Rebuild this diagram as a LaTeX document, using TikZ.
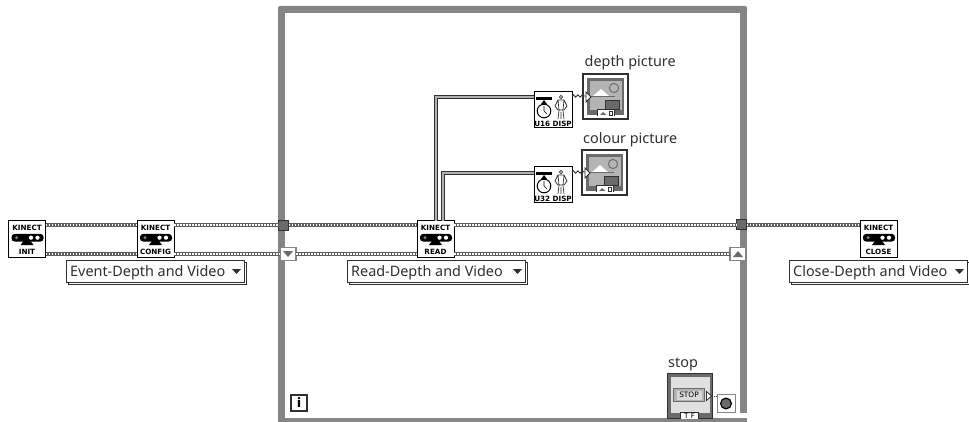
\documentclass[tikz,border=0pt]{standalone}
\usepackage{fontspec}
\setmainfont{Noto Sans}
\newfontfamily\iconfont{DejaVu Sans}
\usetikzlibrary{calc,decorations.pathmorphing}
\definecolor{framegray}{HTML}{858585}
\definecolor{wiregray}{HTML}{5E5E5E}
\definecolor{darkline}{HTML}{303030}
\definecolor{bevel}{HTML}{6A6A6A}
\definecolor{panel}{HTML}{B4B4B4}
\tikzset{
  x=1pt,y=-1pt,
  loopbar/.style={fill=framegray,draw=none},
  wire/.style={draw=wiregray,line width=3.4,postaction={draw=white,line width=1.1,dash pattern=on 1.6 off 1.4}},
  arraywire/.style={draw=darkline,line width=4.6,line join=miter,postaction={draw=white!70!black,line width=1.5}},
  thinwire/.style={draw=darkline,line width=.9,decorate,decoration={snake,amplitude=1.2,segment length=4.5}},
  iconbox/.style={draw=black,line width=1,fill=white,minimum width=37,minimum height=36,inner sep=0,outer sep=0},
  termbox/.style={draw=darkline,line width=1.1,fill=white,minimum width=45,minimum height=45,inner sep=0,outer sep=0},
  combo/.style={draw=darkline,line width=.8,fill=white,minimum width=178,minimum height=22,inner sep=0,outer sep=0},
  tinytext/.style={font=\iconfont\bfseries\fontsize{7.2}{8}\selectfont,inner sep=0,text=black},
  labeltext/.style={font=\fontsize{14.4}{16}\selectfont,inner sep=0,text=darkline,anchor=base west},
  tunnel/.style={draw=darkline,line width=1,fill=bevel,minimum width=10,minimum height=10,inner sep=0,outer sep=0},
  shiftreg/.style={draw=framegray,line width=1.5,fill=white,minimum width=16,minimum height=13,inner sep=0,outer sep=0},
}
% name, left x, top y, caption
\newcommand{\kinecticon}[4]{%
  \node[iconbox,anchor=north west] (#1) at (#2,#3) {};
  \begin{scope}[shift={(#2,#3)}]
    \node[tinytext] (#1-top) at (18.5,6.5) {KINECT};
    \fill[black,rounded corners=3] (3,13) rectangle (35,20.5);
    \fill[black] (15,20) -- (22,20) -- (25,24) -- (12,24) -- cycle;
    \fill[gray] (8,16.7) circle (1.7);
    \fill[white] (22.5,16.7) circle (2.1);
    \fill[white] (29,16.7) circle (2.1);
    \node[tinytext] (#1-cap) at (18.5,31) {#4};
  \end{scope}
}
% name, left x, top y, caption
\newcommand{\dispicon}[4]{%
  \node[iconbox,minimum width=38,anchor=north west] (#1) at (#2,#3) {};
  \begin{scope}[shift={(#2,#3)}]
    \fill[black] (2,5) rectangle (18,8);
    \fill[black] (7,12) -- (13,12) -- (10,8) -- cycle;
    \draw[black,line width=1] (10,19) circle (6.8);
    \draw[black,line width=.6] (10,19) -- (10,14) (10,19) -- (13,22);
    \draw[darkline,line width=.7] (27,5) circle (1.7) (24,8) -- (30,8) -- (33,14) -- (30,18) (24,8) -- (21,14) -- (24,18)
      (24,8) -- (25,18) -- (24,27) (30,8) -- (29,18) -- (30,27) (25,18) -- (29,18) (27,20) -- (27,27);
    \node[tinytext,font=\iconfont\bfseries\fontsize{7.2}{8}\selectfont] (#1-cap) at (19,31.5) {#4};
  \end{scope}
}
% name, left x, top y
\newcommand{\picterm}[3]{%
  \node[termbox,anchor=north west] (#1) at (#2,#3) {};
  \begin{scope}[shift={(#2,#3)}]
    \fill[bevel] (4,4) rectangle (40.5,41);
    \fill[panel] (7,7) rectangle (39,36);
    \fill[white] (18,15) -- (26,22) -- (10,22) -- cycle;
    \draw[bevel,line width=.8] (8,22.5) -- (32,22.5);
    \draw[bevel,line width=.9] (31,14) circle (4.6);
    \fill[bevel] (22,26) rectangle (36,35);
    \draw[darkline,line width=.6] (22,26) rectangle (36,35);
    \draw[darkline,line width=.7,fill=white] (14,42) -- (14,35) -- (31,35) -- (31,42);
    \fill[bevel] (20,38) -- (23.5,41) -- (17,41) -- cycle;
    \draw[darkline,line width=.7] (26,37.5) rectangle (29.5,41);
    \draw[darkline,line width=.8,fill=white] (3,18) -- (8,23) -- (3,28) -- cycle;
  \end{scope}
}
% name, left x, top y, text
\newcommand{\ringcombo}[4]{%
  \draw[darkline,line width=.8,fill=white] (#2+2,#3+2) rectangle (#2+180,#3+24);
  \node[combo,anchor=north west] (#1) at (#2,#3) {};
  \node[labeltext] (#1-text) at (#2+4,#3+16.5) {#4};
  \fill[darkline] (#2+166,#3+9) -- (#2+175,#3+9) -- (#2+170.5,#3+14) -- cycle;
}
\begin{document}
\begin{tikzpicture}
\useasboundingbox (0,0) rectangle (969,422);
\fill[white] (0,0) rectangle (969,422);
% loop frame
\fill[loopbar,rounded corners=2] (278,6) rectangle (747,13);
\fill[loopbar] (278,8) rectangle (285,422);
\fill[loopbar] (740,8) rectangle (747,413);
\fill[loopbar] (278,418) rectangle (747,422);
\fill[white] (738,413) rectangle (747,416.5);
% rows
\coordinate (rowA) at (0,225);
\coordinate (rowB) at (0,254);
\coordinate (bendU) at (436,0);
\coordinate (bendV) at (443,0);
% nodes
\kinecticon{init}{8.5}{221}{INIT}
\kinecticon{config}{137}{221}{CONFIG}
\kinecticon{read}{417}{221}{READ}
\kinecticon{close}{860}{221}{CLOSE}
\dispicon{udisp}{534}{92}{U16 DISP}
\dispicon{vdisp}{534}{167}{U32 DISP}
\picterm{depth}{583}{74}
\picterm{colour}{582}{150}
\node[tunnel,anchor=north west] (tunL) at (278.5,220.5) {};
\node[tunnel,anchor=north west] (tunR) at (736.5,220) {};
\node[shiftreg,anchor=north west] (srL) at (280,247.5) {};
\node[shiftreg,anchor=north west] (srR) at (730,247.5) {};
\fill[bevel] (283,251) -- (293,251) -- (288,257) -- cycle;
\fill[bevel] (733,257) -- (743,257) -- (738,251) -- cycle;
% connectors
\draw[wire] (init.east |- rowA) -- (config.west |- rowA);
\draw[wire] (init.east |- rowB) -- (config.west |- rowB);
\draw[wire] (config.east |- rowA) -- (tunL.west |- rowA);
\draw[wire] (config.east |- rowB) -- (srL.west |- rowB);
\draw[wire] (tunL.east |- rowA) -- (read.west |- rowA);
\draw[wire] (srL.east |- rowB) -- (read.west |- rowB);
\draw[wire] (read.east |- rowA) -- (tunR.west |- rowA);
\draw[wire] (read.east |- rowB) -- (srR.west |- rowB);
\draw[wire] (tunR.east |- rowA) -- (close.west |- rowA);
\draw[arraywire] (read.north -| bendU) |- (udisp.west |- 0,97);
\draw[arraywire] (read.north -| bendV) |- (vdisp.west |- 0,173);
\coordinate (depthIn) at ($(depth.west)+(3,-1)$);
\coordinate (colourIn) at ($(colour.west)+(3,-1)$);
\draw[thinwire] (udisp.east |- 0,96) -- (depthIn |- 0,96);
\draw[thinwire] (vdisp.east |- 0,172) -- (colourIn |- 0,172);
% combos
\ringcombo{evtcombo}{66}{260}{Event-Depth and Video}
\ringcombo{readcombo}{347}{260}{Read-Depth and Video}
\ringcombo{closecombo}{789}{260}{Close-Depth and Video}
% labels
\node[labeltext] (depthlabel) at (584.5,67) {depth picture};
\node[labeltext] (colourlabel) at (583,144) {colour picture};
\node[labeltext] (stoplabel) at (668,367) {stop};
% stop terminal
\node[termbox,anchor=north west,line width=1.3,fill=bevel] (stopterm) at (667.5,373.5) {};
\begin{scope}[shift={(667.5,373.5)}]
  \fill[white!88!black] (3,3) rectangle (42,39);
  \draw[bevel,line width=.8] (6,15) rectangle (37,28);
  \fill[panel] (6.5,15.5) rectangle (36.5,27.5);
  \fill[white!85!black] (9,17) rectangle (34,26);
  \node[tinytext,font=\iconfont\fontsize{7.4}{8}\selectfont] (stoptext) at (21.5,21.5) {STOP};
  \draw[darkline,line width=.8,fill=white] (13,45) -- (13,38.5) -- (31,38.5) -- (31,45);
  \node[tinytext,font=\iconfont\fontsize{7.2}{8}\selectfont] (tftext) at (22,42) {T F};
  \draw[darkline,line width=.8,fill=white] (39,18) -- (44,22.5) -- (39,27) -- cycle;
\end{scope}
% stop condition
\node[draw=framegray,line width=1,fill=white,minimum width=18,minimum height=18,inner sep=0,outer sep=0,anchor=north west] (cond) at (717,394.5) {};
\fill[bevel] (cond.center) circle (5);
\draw[black,line width=1.2] (cond.center) circle (5.4);
\coordinate (stopOut) at (711.5,396);
\draw[darkline,line width=.9,dash pattern=on 1 off 1] (stopOut) -- (cond.west |- stopOut);
% iteration terminal
\node[draw=darkline,line width=2,fill=white,minimum width=16,minimum height=16,inner sep=0,outer sep=0,anchor=north west,font=\iconfont\bfseries\fontsize{13}{14}\selectfont] (iter) at (291,395) {i};
\end{tikzpicture}
\end{document}
